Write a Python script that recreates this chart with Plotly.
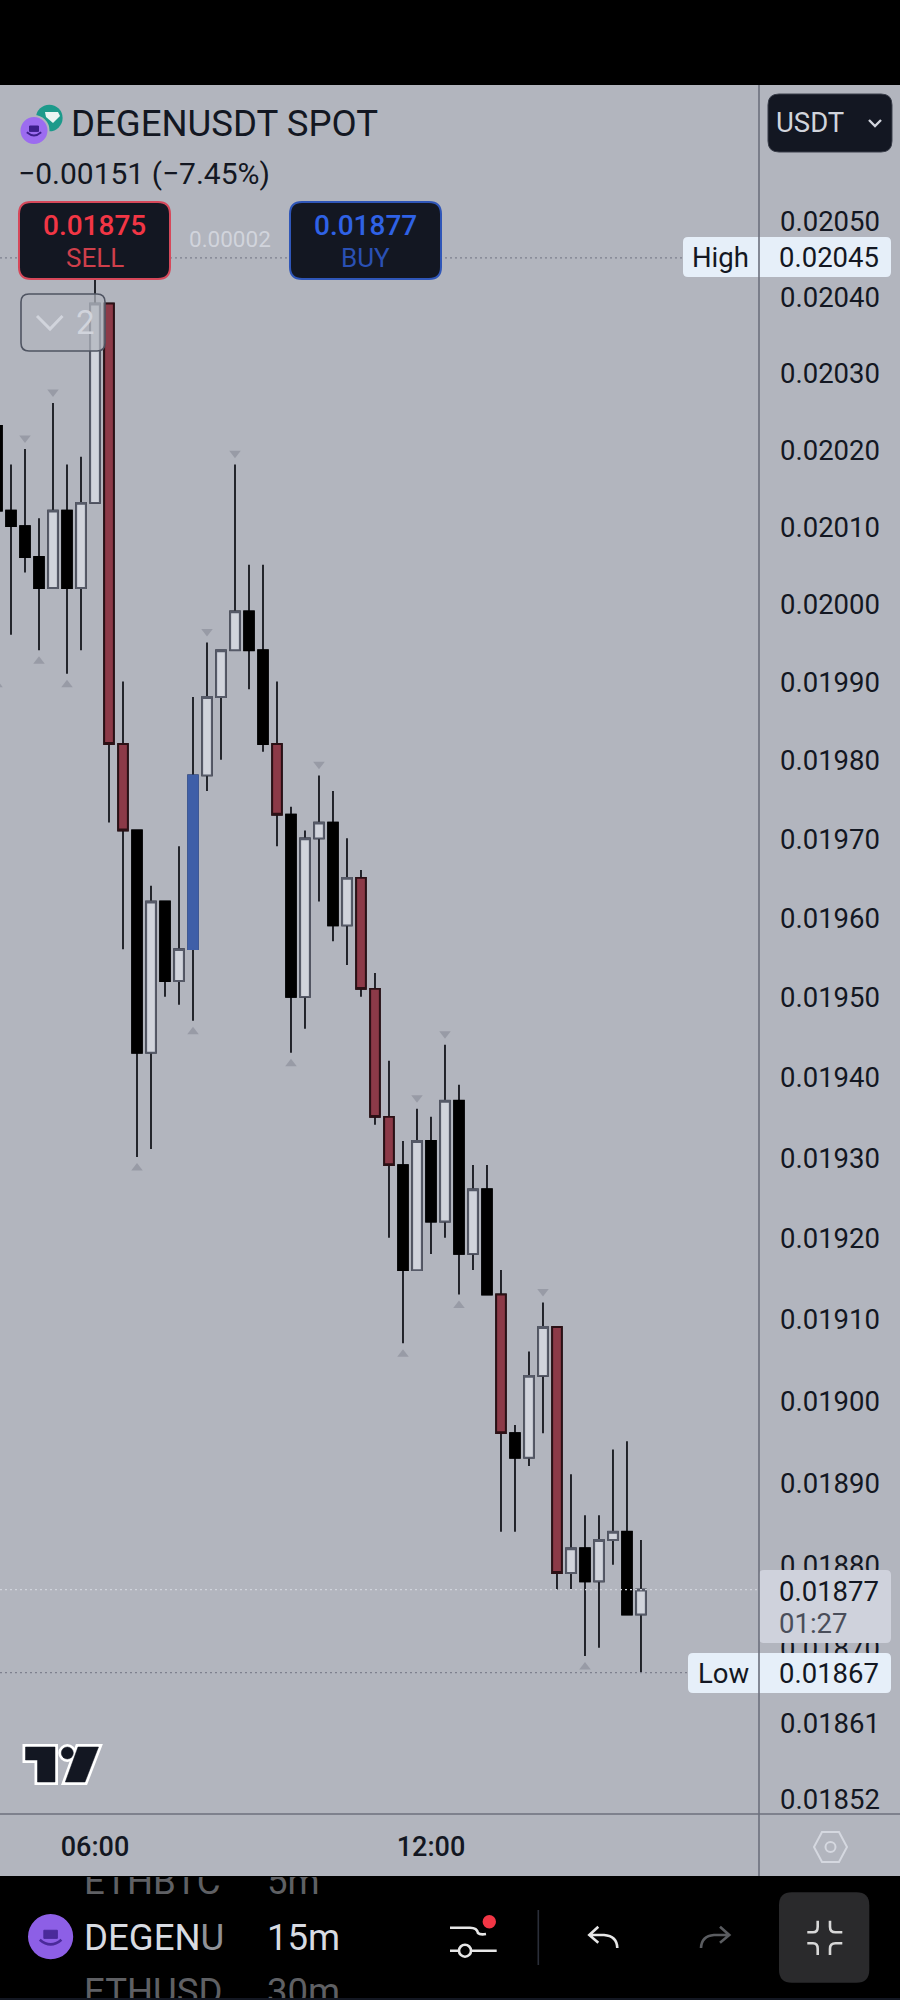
import math
import plotly.graph_objects as go

# ---- data ----
candle_index = list(range(-1, 46))
opens = [0.02023,0.02012,0.02010,0.02006,0.02002,0.02012,0.02002,0.02013,0.02039,0.01982,
         0.01971,0.01943,0.01962,0.01952,0.01956,0.01978,0.01988,0.01994,0.01999,0.01994,
         0.01982,0.01973,0.01950,0.01970,0.01972,0.01959,0.01965,0.01951,0.01935,0.01929,
         0.01916,0.01932,0.01922,0.01937,0.01918,0.01926,0.01913,0.01896,0.01893,0.01903,
         0.01909,0.01879,0.01882,0.01878,0.01883,0.01884,0.01874]
highs = [0.02024,0.02018,0.02020,0.02011,0.02026,0.02018,0.02019,0.02045,0.02039,0.01990,
         0.01971,0.01964,0.01962,0.01969,0.01988,0.01995,0.01994,0.02018,0.02005,0.02005,
         0.01990,0.01974,0.01971,0.01978,0.01976,0.01970,0.01966,0.01953,0.01942,0.01932,
         0.01936,0.01935,0.01944,0.01939,0.01929,0.01929,0.01916,0.01897,0.01906,0.01912,
         0.01909,0.01891,0.01886,0.01886,0.01894,0.01895,0.01883]
lows = [0.01991,0.01996,0.02004,0.01994,0.02002,0.01991,0.01994,0.02013,0.01972,0.01956,
        0.01930,0.01931,0.01950,0.01949,0.01947,0.01976,0.01980,0.01994,0.01989,0.01981,
        0.01969,0.01943,0.01946,0.01962,0.01957,0.01954,0.01950,0.01934,0.01920,0.01907,
        0.01916,0.01918,0.01920,0.01913,0.01916,0.01913,0.01884,0.01884,0.01892,0.01896,
        0.01877,0.01877,0.01869,0.01870,0.01880,0.01874,0.01867]
closes = [0.02012,0.02010,0.02006,0.02002,0.02012,0.02002,0.02013,0.02039,0.01982,0.01971,
          0.01943,0.01962,0.01952,0.01956,0.01978,0.01988,0.01994,0.01999,0.01994,0.01982,
          0.01973,0.01950,0.01970,0.01972,0.01959,0.01965,0.01951,0.01935,0.01929,0.01916,
          0.01932,0.01922,0.01937,0.01918,0.01926,0.01913,0.01896,0.01893,0.01903,0.01909,
          0.01879,0.01882,0.01878,0.01883,0.01884,0.01874,0.01877]
kinds = list("bbbbwbwwmmbwbwuwwwbbmbwwbwmmmbwbwbwbmbwwmwbwwbw")

pivot_high_index = [1, 3, 14, 16, 22, 29, 31, 38]
pivot_low_index = [-1, 2, 4, 9, 13, 20, 28, 32, 41]

price_ticks = [0.0205,0.0204,0.0203,0.0202,0.0201,0.0200,0.0199,0.0198,0.0197,0.0196,0.0195,
               0.0194,0.0193,0.0192,0.0191,0.0190,0.0189,0.0188,0.0187,0.01861,0.01852]
price_tick_text = ["0.02050","0.02040","0.02030","0.02020","0.02010","0.02000","0.01990","0.01980",
                   "0.01970","0.01960","0.01950","0.01940","0.01930","0.01920","0.01910","0.01900",
                   "0.01890","0.01880","0.01870","0.01861","0.01852"]
time_ticks = [6, 30]
time_tick_text = ["06:00", "12:00"]

session_high = 0.02045
session_low = 0.01867
last_price = 0.01877
price_top = 0.0206789
price_bottom = 0.0185008
index_left = -0.786
index_right = 53.43

BG = "#b2b5be"
INK = "#131722"
PALE = "#d1d4dc"
W, H = 900, 2000


def P(x, y):
    return f"{x/W:.5f},{1-y/H:.5f}"


shapes = []
annotations = []


def path(d, fill=None, line=None, width=0, layer="above"):
    # d is a list of tokens: letters or (x, y) tuples given in page pixels
    s = ""
    for t in d:
        s += t if isinstance(t, str) else " " + P(*t) + " "
    shapes.append(dict(type="path", path=s, xref="paper", yref="paper", layer=layer,
                       fillcolor=fill if fill else "rgba(0,0,0,0)",
                       line=dict(color=line if line else "rgba(0,0,0,0)", width=width)))


def rrect(x0, y0, x1, y1, r, fill=None, line=None, width=0, layer="above"):
    path(["M", (x0 + r, y0), "L", (x1 - r, y0), "Q", (x1, y0), (x1, y0 + r), "L", (x1, y1 - r),
          "Q", (x1, y1), (x1 - r, y1), "L", (x0 + r, y1), "Q", (x0, y1), (x0, y1 - r), "L", (x0, y0 + r),
          "Q", (x0, y0), (x0 + r, y0), "Z"], fill, line, width, layer)


def circle(cx, cy, r, fill=None, line=None, width=0):
    shapes.append(dict(type="circle", xref="paper", yref="paper", layer="above",
                       x0=(cx - r) / W, x1=(cx + r) / W, y0=1 - (cy + r) / H, y1=1 - (cy - r) / H,
                       fillcolor=fill if fill else "rgba(0,0,0,0)",
                       line=dict(color=line if line else "rgba(0,0,0,0)", width=width)))


def rect(x0, y0, x1, y1, fill, layer="above"):
    shapes.append(dict(type="rect", xref="paper", yref="paper", layer=layer, x0=x0 / W, x1=x1 / W,
                       y0=1 - y1 / H, y1=1 - y0 / H, fillcolor=fill, line=dict(width=0)))


def text(x, y, s, size, color=INK, anchor="left", weight=400):
    annotations.append(dict(x=x / W, y=1 - y / H, xref="paper", yref="paper", text=s, showarrow=False,
                            xanchor=anchor, yanchor="middle", borderpad=0, borderwidth=0,
                            font=dict(family="Roboto", size=size, color=color, weight=weight)))


def price_line(value, x1, color):
    shapes.append(dict(type="line", xref="paper", yref="y", x0=0, x1=x1 / W, y0=value, y1=value,
                       layer="above", line=dict(color=color, width=1.2, dash="2px,3px")))


def hat(cx, cy, s, color):
    path(["M", (cx - 5 * s, cy - 5 * s), "L", (cx + 5 * s, cy - 5 * s), "L", (cx + 5 * s, cy + 1 * s),
          "L", (cx - 5 * s, cy + 1 * s), "Z"], color, color, 1)
    path(["M", (cx - 8 * s, cy + 2 * s), "Q", (cx, cy + 9 * s), (cx + 8 * s, cy + 2 * s)],
         None, color, 2 * s)


# page bands
rect(0, 0, W, 85, "#000000", "below")
rect(0, 1876, W, 2000, "#000000", "below")
rect(0, 1998, W, 2000, "#131722", "below")

# price lines
price_line(session_high, 683, "#7d808e")
price_line(last_price, 759, PALE)
price_line(session_low, 688, "#7d808e")

# header
circle(49.3, 118, 13.3, "#1c9a8b")
path(["M", (45, 112), "L", (58, 112), "L", (60, 116), "L", (53, 123), "L", (46, 117), "Z"], "#e8f5f2")
circle(34, 130.5, 14.5, "#9c6cf0", BG, 2)
hat(34, 130.5, 0.9, "#3d1f8c")
text(71, 123, "DEGENUSDT SPOT", 36.6)
text(18, 173, "\u22120.00151 (\u22127.45%)", 30)

# sell / buy
rrect(19, 202, 170, 279, 12, INK, "#d6485a", 2)
text(94.5, 225, "0.01875", 28, "#f23645", "center", 500)
text(94.5, 258, "SELL", 26, "#cf3f4b", "center")
text(229.5, 239, "0.00002", 22.5, PALE, "center")
rrect(290, 202, 441, 279, 12, INK, "#2f56b8", 2)
text(365.5, 225, "0.01877", 28, "#2f62e6", "center", 500)
text(365.5, 258, "BUY", 26, "#2a50b4", "center")

# collapsed-order button
rrect(21, 294, 105, 351, 8, "rgba(178,181,190,0.72)", "#4f5462", 1.6)
path(["M", (37, 316), "L", (50, 329), "L", (62.5, 316)], None, PALE, 3)
text(85, 322, "2", 33, PALE, "center")

# currency button
rrect(768, 94, 892, 152, 11, INK, "#3a3e4a", 1)
text(776, 122.5, "USDT", 27.5, PALE)
path(["M", (869, 120), "L", (875, 126), "L", (881, 120)], None, PALE, 2.4)

# price labels
rrect(683, 237, 891, 277, 5, "#e6eff9")
text(720.5, 257, "High", 27.5, INK, "center")
text(779, 257.5, "0.02045", 27.5)
rrect(759, 1570, 891, 1643, 5, "#cfd2dc")
text(779, 1591, "0.01877", 27.5)
text(779, 1623.5, "01:27", 27.5, "#4a4e5a")
rrect(688, 1653, 891, 1693, 5, "#e6eff9")
text(723.5, 1673, "Low", 27.5, INK, "center")
text(779, 1673.5, "0.01867", 27.5)

# frame lines
shapes.append(dict(type="line", xref="paper", yref="paper", x0=759 / W, x1=759 / W, y0=1 - 1876 / H, y1=1 - 85 / H,
                   layer="above", line=dict(color="#6c707d", width=1.6)))
shapes.append(dict(type="line", xref="paper", yref="paper", x0=0, x1=1, y0=1 - 1814 / H, y1=1 - 1814 / H,
                   layer="above", line=dict(color="#6c707d", width=1.6)))

# settings hexagon
path(["M", (814, 1847), "L", (822, 1832), "L", (839, 1832), "L", (847, 1847), "L", (839, 1862), "L", (822, 1862), "Z"],
     None, "#d5d8e0", 2)
circle(830.5, 1847, 5, None, "#d5d8e0", 2)

# TradingView mark
tv = "#131722"
for col, wd in (("#ffffff", 6), (tv, 0.5)):
    path(["M", (25.5, 1747), "L", (55, 1747), "L", (55, 1782), "L", (37.5, 1782), "L", (37.5, 1760), "L", (25.5, 1760), "Z"],
         tv, col, wd)
    path(["M", (78, 1747), "L", (98.5, 1747), "L", (85, 1782), "L", (65.3, 1782), "Z"], tv, col, wd)
    circle(67.3, 1753, 6, tv, col, wd)

# bottom toolbar
circle(50.6, 1936.7, 22.6, "#8d5fe6")
hat(50.6, 1937, 1.35, "#4a2a9a")
text(84, 1937, 'DEGEN<span style="color:#8f9197">U</span>', 36.6, "#d8dbe2")
text(267, 1937, "15m", 36.6, "#d8dbe2")
path(["M", (450, 1927.7), "L", (470, 1927.7), "Q", (477, 1927.7), (478, 1933), "Q", (480, 1935), (486, 1934)], None, "#e6e6e6", 2.6)
circle(489.3, 1921.7, 6.7, "#f23645")
path(["M", (450, 1950.7), "L", (496.7, 1950.7)], None, "#e6e6e6", 2.6)
circle(465, 1950.7, 6, "#000000", "#e6e6e6", 2.6)
path(["M", (538.3, 1910), "L", (538.3, 1965)], None, "#2a2e39", 1.6)
path(["M", (598.3, 1926.7), "L", (589.3, 1935), "L", (598.3, 1942.7), "M", (589.3, 1935), "L", (604, 1935),
      "Q", (617, 1936), (617.3, 1948)], None, "#e6e6e6", 2.6)
path(["M", (720, 1926.7), "L", (729.3, 1935), "L", (720, 1942.7), "M", (729.3, 1935), "L", (714, 1935),
      "Q", (701.5, 1936), (701, 1948)], None, "#5a5c60", 2.6)
rrect(779, 1892.3, 869.3, 1982.7, 13, "#2a2a2c")
for ex, vx, ey, vy0, vy1 in ((807.3, 817.7, 1932.3, 1926.7, 1920.7),
                              (842.3, 830, 1932.3, 1926.7, 1920.7),
                              (807.3, 817.7, 1943.3, 1948.7, 1955),
                              (842.3, 830, 1943.3, 1948.7, 1955)):
    mid = ex + (vx - ex) * 0.55
    path(["M", (ex, ey), "L", (mid, ey), "Q", (vx, ey), (vx, vy0), "L", (vx, vy1)], None, "#d8d8d8", 2.6)

# ---- traces ----
fig = go.Figure()


def flat(color, lw):
    return dict(line=dict(color=color, width=lw), fillcolor=color)


def pick(seq, kind):
    return [v for v, k in zip(seq, kinds) if k == kind]


# wick layer: every candle, full high/low range
fig.add_trace(go.Candlestick(x=candle_index, open=opens, high=highs, low=lows, close=closes,
                             whiskerwidth=0, increasing=flat("#0b0d13", 1.7), decreasing=flat("#0b0d13", 1.7),
                             hoverinfo="skip", showlegend=False))

# body layer: bodies only, one trace per colour
styles = {"b": ("#000000", "#000000"), "w": (PALE, "#565a68"), "m": ("#8c3a48", "#2b1015"), "u": ("#3f5fa8", "#3f5fa8")}
for kind, (fill, edge) in styles.items():
    o = pick(opens, kind)
    c = pick(closes, kind)
    top = [max(a, b) for a, b in zip(o, c)]
    bot = [min(a, b) for a, b in zip(o, c)]
    style = dict(line=dict(color=edge, width=1.9), fillcolor=fill)
    fig.add_trace(go.Candlestick(x=pick(candle_index, kind), open=o, high=top, low=bot, close=c,
                                 whiskerwidth=0, increasing=style, decreasing=style,
                                 hoverinfo="skip", showlegend=False))

# pivot markers
marker_gap = 1.00071
px_hi = [highs[candle_index.index(i)] * marker_gap for i in pivot_high_index]
px_lo = [lows[candle_index.index(i)] / marker_gap for i in pivot_low_index]
fig.add_trace(go.Scatter(x=pivot_high_index, y=px_hi, mode="markers", showlegend=False, hoverinfo="skip",
                         marker=dict(symbol="triangle-down", size=10, color="#989ba6", line=dict(width=0))))
fig.add_trace(go.Scatter(x=pivot_low_index, y=px_lo, mode="markers", showlegend=False, hoverinfo="skip",
                         marker=dict(symbol="triangle-up", size=10, color="#989ba6", line=dict(width=0))))

# clipped watchlist wheel in the toolbar
fig.add_trace(go.Scatter(x=[84, 84, 267, 267], y=[1885, 1994.5, 1885, 1994.5], xaxis="x2", yaxis="y2",
                         mode="text", text=["ETHBTC", "ETHUSD", "5m", "30m"], textposition="middle right",
                         textfont=dict(family="Roboto", size=36.6, color="#5f6064"), showlegend=False, hoverinfo="skip"))

fig.update_layout(
    width=W, height=H, margin=dict(l=0, r=0, t=0, b=0), paper_bgcolor=BG, plot_bgcolor="rgba(0,0,0,0)",
    boxgap=0.31, boxgroupgap=0, showlegend=False, dragmode=False, shapes=shapes, annotations=annotations,
    xaxis=dict(domain=[0, 759 / W], range=[index_left, index_right], rangeslider=dict(visible=False), showgrid=False,
               zeroline=False, showline=False, ticks="", tickmode="array", tickvals=time_ticks, ticktext=time_tick_text,
               tickfont=dict(family="Roboto", size=27, color=INK, weight=500), ticklabelstandoff=14, automargin=False,
               tickangle=0),
    yaxis=dict(domain=[1 - 1814 / H, 1 - 85 / H], type="log",
               range=[math.log10(price_bottom), math.log10(price_top)], side="right", showgrid=False, zeroline=False,
               showline=False, ticks="", tickmode="array", tickvals=price_ticks, ticktext=price_tick_text,
               tickfont=dict(family="Roboto", size=27.5, color=INK), ticklabelstandoff=20, ticklabelshift=1,
               automargin=False),
    xaxis2=dict(domain=[0, 1], range=[0, W], visible=False, anchor="y2", fixedrange=True),
    yaxis2=dict(domain=[1 - 1998 / H, 1 - 1877 / H], range=[1998, 1877], visible=False, anchor="x2", fixedrange=True),
)

fig.write_html("out.html", config=dict(displayModeBar=False, staticPlot=True),
               post_script="document.body.style.margin='0';document.body.style.overflow='hidden';")
